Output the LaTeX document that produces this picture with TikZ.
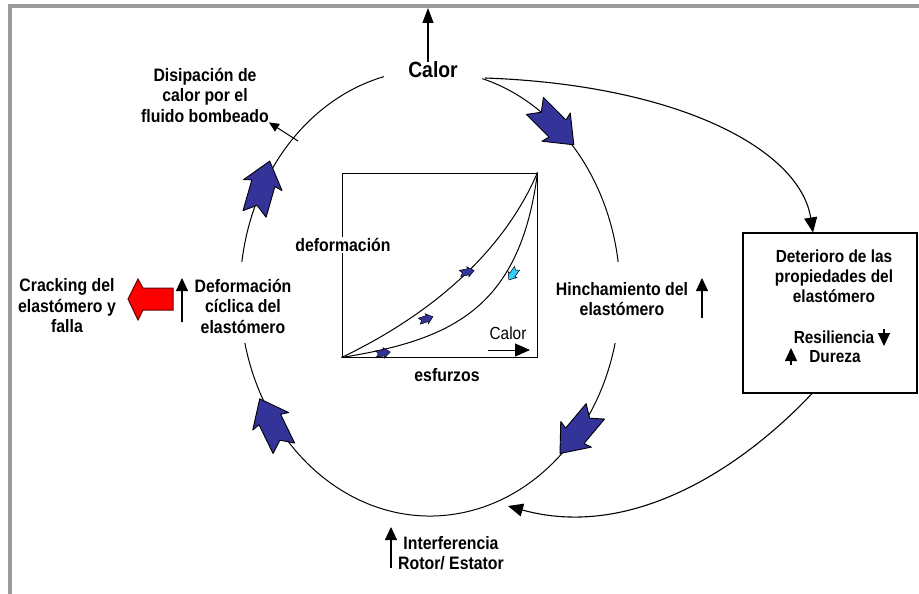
\documentclass[tikz,border=0pt]{standalone}
\usepackage{fontspec}
\setmainfont{Liberation Sans}[FakeStretch=0.88]
\usetikzlibrary{arrows.meta}
\definecolor{flowblue}{HTML}{333399}
\definecolor{flowcyan}{HTML}{33CCFF}
\definecolor{framegray}{HTML}{9A9A9A}

\begin{document}
\begin{tikzpicture}[x=1pt, y=-1pt,
lab/.style={align=center, inner sep=0pt, font=\fontsize{18}{20.5}\selectfont\bfseries},
line/.style={line width=1pt},
ind/.style={-{Triangle[length=13pt, width=12pt]}, line width=1.2pt},
link/.style={-{Triangle[length=15pt, width=13pt]}, line width=1.1pt},
flow/.pic={\path[pic actions] (28,0) -- (3,20) -- (5,12) -- (-27,12) -- (-18,0) -- (-27,-12) -- (5,-12) -- (3,-20) -- cycle;},
bigflow/.style={draw, fill=flowblue, line width=0.9pt, line join=round},
smallflow/.style={draw, fill=flowblue, line width=0.5pt, scale=0.26}
]
\useasboundingbox (0,0) rectangle (919,594);
\fill[framegray] (8,4) rectangle (919,8);
\fill[framegray] (8,4) rectangle (12,594);

% loop
\draw[line] (430,293) ++(256:190 and 223) arc[start angle=256, end angle=188, x radius=190, y radius=223];
\draw[line] (430,293) ++(167:190 and 223) arc[start angle=167, end angle=13, x radius=190, y radius=223];
\draw[line] (430,293) ++(286:190 and 223) arc[start angle=286, end angle=352, x radius=190, y radius=223];

\node[lab, font=\fontsize{22}{24}\selectfont\bfseries, minimum width=104] (calor) at (433,70) {Calor};
\node[lab] (disip) at (205,95) {Disipación de\\calor por el\\fluido bombeado};
\node[lab] (crack) at (67,306) {Cracking del\\elastómero y\\falla};
\node[lab] (deform) at (243,306) {Deformación\\cíclica del\\elastómero};
\node[lab] (hinch) at (622,299) {Hinchamiento del\\elastómero};
\node[lab] (interf) at (451,553) {Interferencia\\Rotor/ Estator};

\node[draw, line width=1.1pt, minimum width=174, minimum height=160, inner sep=0pt] (box) at (830,313) {};
\node[lab, font=\fontsize{17.5}{20}\selectfont\bfseries] (deter) at (834,276) {Deterioro de las\\propiedades del\\elastómero};
\node[lab, font=\fontsize{17.5}{20}\selectfont\bfseries] (resil) at (834,337) {Resiliencia};
\node[lab, font=\fontsize{17.5}{20}\selectfont\bfseries] (durez) at (835,357) {Dureza};

% stress-strain plot
\node[draw, line width=1pt, minimum width=195, minimum height=184, inner sep=0pt] (plot) at (439.5,265) {};
\draw[line] (plot.south west) .. controls (420,320) and (500,260) .. (plot.north east);
\draw[line] (plot.south west) .. controls (450,340) and (520,310) .. (plot.north east);
\node[lab, fill=white, inner sep=1pt] (strain) at (343,245) {deformación};
\node[lab] (stress) at (447,375) {esfurzos};
\node[inner sep=0pt, font=\fontsize{17.5}{20}\selectfont] (heat) at (508,333) {Calor};
\coordinate (heatend) at (530,350);
\draw[-{Triangle[length=15pt, width=13pt]}, line width=1pt] (488,350) -- (heatend);
\pic[smallflow, rotate=12] at (467,272) {flow};
\pic[smallflow, rotate=18] at (426,319) {flow};
\pic[smallflow, rotate=8] at (383,353) {flow};
\pic[smallflow, fill=flowcyan, rotate=235] at (513,274) {flow};

% blue arrows on the loop
\pic[bigflow, rotate=-45] at (554,125) {flow};
\pic[bigflow, rotate=-130] at (578,432) {flow};
\pic[bigflow, rotate=116] at (272,424) {flow};
\pic[bigflow, rotate=74] at (262,188) {flow};

% links
\coordinate (top) at (428,8);
\coordinate (ret) at (508,506);
\draw[ind, -{Triangle[length=15pt, width=11pt]}] (calor.north -| top) -- (top);
\draw[link] ([yshift=-8pt]calor.east) .. controls (680,85) and (800,150) .. ([xshift=-17pt]box.north);
\draw[link] ([xshift=-18pt]box.south) .. controls (740,470) and (630,540) .. (ret);
\draw[-{Triangle[length=10pt, width=9pt]}, line width=1pt] (298,141) -- (disip.south east);

% up / down marks
\draw[ind] (182,322) -- (182,278);
\draw[ind] (702,318) -- (702,278);
\draw[ind] (391,568) -- (391,527);
\draw[ind] (884,329) -- (884,346);
\draw[ind] (791,365) -- (791,348);

\draw[fill=red, line width=1pt, draw=black!60!red, line join=miter] (128,299) -- (138,279) -- (143,288) -- (173,288) -- (173,310) -- (143,310) -- (138,320) -- cycle;
\end{tikzpicture}
\end{document}
